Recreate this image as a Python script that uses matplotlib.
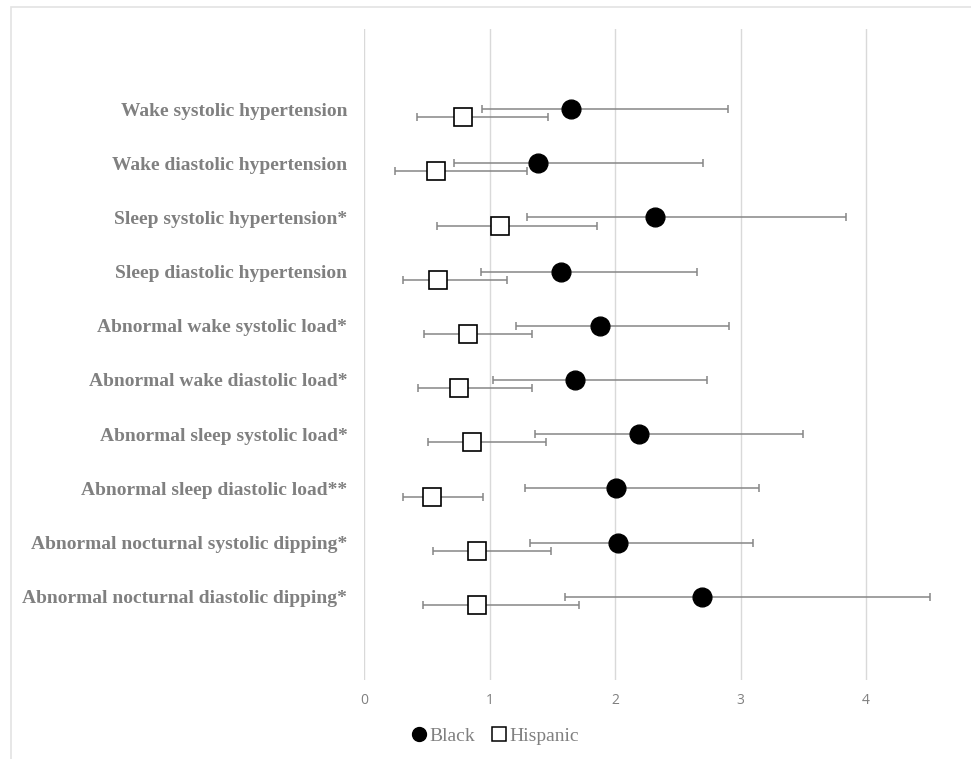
import matplotlib.pyplot as plt
from matplotlib.lines import Line2D
from matplotlib.patches import Rectangle
import numpy as np

labels = ["Wake systolic hypertension",
          "Wake diastolic hypertension",
          "Sleep systolic hypertension*",
          "Sleep diastolic hypertension",
          "Abnormal wake systolic load*",
          "Abnormal wake diastolic load*",
          "Abnormal sleep systolic load*",
          "Abnormal sleep diastolic load**",
          "Abnormal nocturnal systolic dipping*",
          "Abnormal nocturnal diastolic dipping*"]

black_or = [1.65, 1.39, 2.32, 1.57, 1.88, 1.68, 2.19, 2.01, 2.02, 2.69]
black_lo = [0.94, 0.72, 1.30, 0.93, 1.21, 1.03, 1.36, 1.28, 1.32, 1.60]
black_hi = [2.90, 2.70, 3.84, 2.65, 2.91, 2.73, 3.50, 3.15, 3.10, 4.51]

hisp_or = [0.79, 0.57, 1.08, 0.59, 0.83, 0.76, 0.86, 0.54, 0.90, 0.90]
hisp_lo = [0.42, 0.25, 0.58, 0.31, 0.48, 0.43, 0.51, 0.31, 0.55, 0.47]
hisp_hi = [1.47, 1.30, 1.86, 1.14, 1.34, 1.34, 1.45, 0.95, 1.49, 1.71]

xticks = [0, 1, 2, 3, 4]

W, H = 971, 759
fig = plt.figure(figsize=(W / 100, H / 100), dpi=100)
fig.patches.append(Rectangle((11 / W, -0.05), 1, 1.05 - 7 / H, transform=fig.transFigure,
                             fill=False, edgecolor="#e3e3e3", linewidth=1.2))

ax = fig.add_axes([364 / W, 1 - 680 / H, (958 - 364) / W, (680 - 29) / H])

y = np.arange(len(labels))
yb = y
yh = y + 0.15

b = np.array(black_or)
h = np.array(hisp_or)
ax.errorbar(b, yb, xerr=[b - np.array(black_lo), np.array(black_hi) - b], fmt="none",
            ecolor="#868686", elinewidth=1.1, capsize=3, capthick=1.1, zorder=2)
ax.errorbar(h, yh, xerr=[h - np.array(hisp_lo), np.array(hisp_hi) - h], fmt="none",
            ecolor="#868686", elinewidth=1.1, capsize=3, capthick=1.1, zorder=2)
ax.plot(b, yb, "o", color="black", markersize=13.5, linestyle="none", zorder=3)
ax.plot(h, yh, "s", markerfacecolor="white", markeredgecolor="black", markersize=13,
        markeredgewidth=1.2, linestyle="none", zorder=3)

ax.set_xlim(0, (958 - 364) / 125.5)
ax.set_ylim(y[0] + (680 - 109) / 54.2, y[0] - (109 - 29) / 54.2)
ax.set_xticks(xticks)
ax.set_xticklabels([str(t) for t in xticks], color="#808080", fontsize=10,
                   family="Open Sans")
ax.set_yticks(yb)
ax.set_yticklabels(labels, family="Liberation Serif", fontweight="bold",
                   fontsize=14, color="#808080")
ax.tick_params(axis="both", length=0)
ax.tick_params(axis="x", pad=9)
ax.tick_params(axis="y", pad=12)
ax.grid(axis="x", color="#d9d9d9", linewidth=1)
ax.set_axisbelow(True)
for s in ax.spines.values():
    s.set_visible(False)

handles = [Line2D([], [], marker="o", color="black", linestyle="none", markersize=10),
           Line2D([], [], marker="s", markerfacecolor="white", markeredgecolor="black",
                  linestyle="none", markersize=10, markeredgewidth=1.1)]
leg = fig.legend(handles, ["Black", "Hispanic"], loc="center",
                 bbox_to_anchor=(494 / W, 1 - 736 / H), ncol=2, frameon=False,
                 handletextpad=0.05, columnspacing=0.7, handlelength=1,
                 prop={"family": "Liberation Serif", "size": 14})
for t in leg.get_texts():
    t.set_color("#808080")

fig.savefig("out.png", dpi=100)
